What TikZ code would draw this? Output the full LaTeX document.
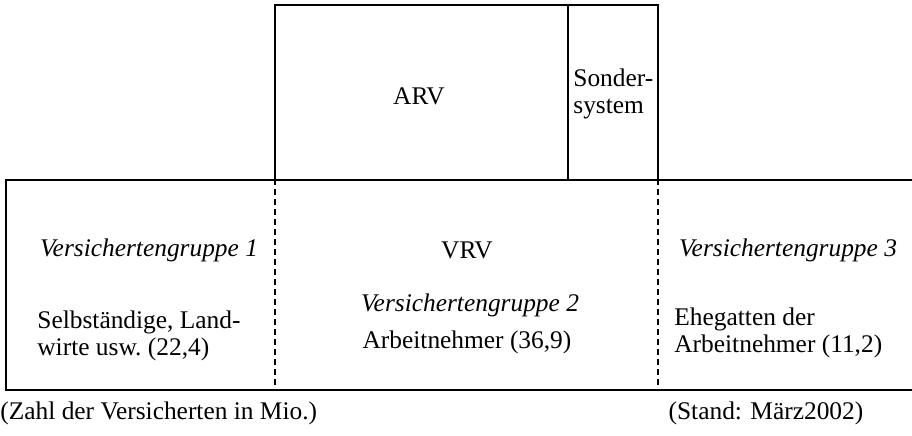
\documentclass[tikz,border=0pt]{standalone}
\usepackage{fontspec}
\setmainfont{Liberation Serif}

\begin{document}
\begin{tikzpicture}[x={(0.5pt,0)}, y={(0,-0.5pt)},
        every node/.style={inner sep=0pt, font=\fontsize{12.7}{13.5}\selectfont},
        frame/.style={line width=0.7pt},
        divider/.style={line width=0.6pt, dash pattern=on 3pt off 2pt},
        group/.style={font=\fontsize{12.7}{13.5}\selectfont\itshape},
        members/.style={align=left, anchor=west}]
            \useasboundingbox (0,0) rectangle (912,435);

            % Corners of the upper boxes (ARV and Sondersystem)
            \coordinate (ARVnw) at (275,5);
            \coordinate (SONne) at (658,5);
            \coordinate (SONnw) at (568,5);
            \coordinate (SONsw) at (568,179);
            \coordinate (ARVsw) at (275,179);
            \coordinate (SONse) at (658,179);

            % Corners of the lower box (VRV), open to the right
            \coordinate (VRVnw) at (6,180);
            \coordinate (VRVsw) at (6,390);
            \coordinate (VRVne) at (912,180);
            \coordinate (VRVse) at (912,390);
            \coordinate (LEFTend) at (275,390);
            \coordinate (RIGHTend) at (658,390);

            \draw[frame] (ARVsw) -- (ARVnw) -- (SONne) -- (SONse);
            \draw[frame] (SONnw) -- (SONsw);
            \draw[frame] (VRVne) -- (VRVnw) -- (VRVsw) -- (VRVse);
            \draw[divider] (ARVsw) -- (LEFTend);
            \draw[divider] (SONse) -- (RIGHTend);

            % Texts
            \node (ARV) at (419,96) {ARV};
            \node[members] (SON) at (573,94) {Sonder-\\system};

            \node[group] (G1) at (149,250) {Versichertengruppe 1};
            \node[members] (M1) at (37,336) {Selbständige, Land-\\wirte usw.\ (22,4)};

            \node (VRV) at (467,250) {VRV};
            \node[group] (G2) at (470,305) {Versichertengruppe 2};
            \node (M2) at (467,342) {Arbeitnehmer (36,9)};

            \node[group] (G3) at (788,250) {Versichertengruppe 3};
            \node[members] (M3) at (674,333) {Ehegatten der\\Arbeitnehmer (11,2)};

            \node[anchor=west] (note) at (0,413) {(Zahl der Versicherten in Mio.)};
            \node (stand) at (766,413) {(Stand: März2002)};
\end{tikzpicture}
\end{document}
